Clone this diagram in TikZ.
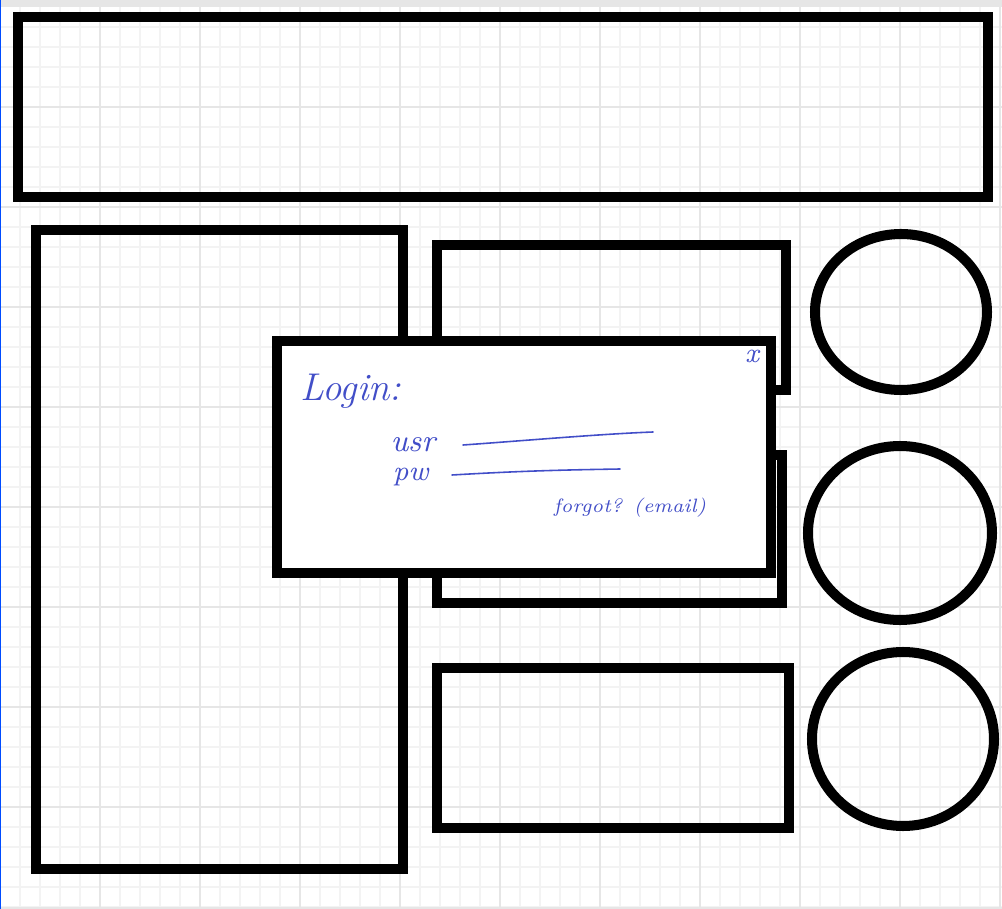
\documentclass[tikz,border=0pt]{standalone}
\usepackage{tikz}
\definecolor{penblue}{RGB}{66,78,200}
\definecolor{gridminor}{RGB}{243,243,243}
\definecolor{gridmajor}{RGB}{230,230,230}
\tikzset{
  frame/.style={line width=2.85pt, draw=black},
  ink/.style={text=penblue, font=\itshape, inner sep=0pt},
  inkline/.style={draw=penblue, line width=0.45pt, line cap=round}
}

\begin{document}
\begin{tikzpicture}[x=0.01cm, y=-0.01cm]
\useasboundingbox (0,0) rectangle (1002,909);
\fill[white] (0,0) rectangle (1002,909);
% grid paper
\foreach \gx in {20,40,...,1000} \draw[gridminor, line width=0.45pt] (\gx,7) -- (\gx,907);
\foreach \gy in {27,47,...,907} \draw[gridminor, line width=0.45pt] (0,\gy) -- (1002,\gy);
\foreach \gx in {100,200,...,1000} \draw[gridmajor, line width=0.45pt] (\gx,7) -- (\gx,907);
\foreach \gy in {107,207,...,807} \draw[gridmajor, line width=0.45pt] (0,\gy) -- (1002,\gy);
\fill[gridmajor] (0,0) rectangle (1002,7);
\fill[gridmajor] (0,907) rectangle (1002,909);
\fill[blue!70!cyan] (0,0) rectangle (1.5,909);

% header
\draw[frame] (18,17) rectangle (988,197);
% side panel
\draw[frame] (36,230) rectangle (403,869);
% content boxes
\draw[frame] (437,245) rectangle (786,390);
\draw[frame] (437,455) rectangle (782,603);
\draw[frame] (437,668) rectangle (789,828);
% round buttons
\draw[frame] (901,312) ellipse [x radius=86, y radius=78];
\draw[frame] (900,533) ellipse [x radius=92, y radius=87];
\draw[frame] (903,739) ellipse [x radius=91, y radius=87];

% login popup
\draw[frame, fill=white] (277,341) rectangle (771,573);
\node[ink, anchor=base, font=\itshape\fontsize{11}{12}\selectfont] (login) at (351,400) {Login:};
\node[ink, anchor=base, font=\itshape\fontsize{8}{9}\selectfont] (close) at (752,362) {x};
\node[ink, anchor=base, font=\itshape\fontsize{9}{10}\selectfont] (usr) at (413,452) {usr};
\node[ink, anchor=base, font=\itshape\fontsize{8}{9}\selectfont] (pw) at (411,480) {pw};
\node[ink, anchor=base, font=\itshape\fontsize{5.5}{6}\selectfont] (forgot) at (630,512) {forgot? (email)};
\coordinate (usrstart) at (463,445);
\coordinate (usrend) at (653,432);
\coordinate (pwstart) at (452,475);
\coordinate (pwend) at (620,469);
\draw[inkline] (usrstart) .. controls (520,441) and (600,434) .. (usrend);
\draw[inkline] (pwstart) .. controls (520,471) and (560,470) .. (pwend);
\end{tikzpicture}
\end{document}
